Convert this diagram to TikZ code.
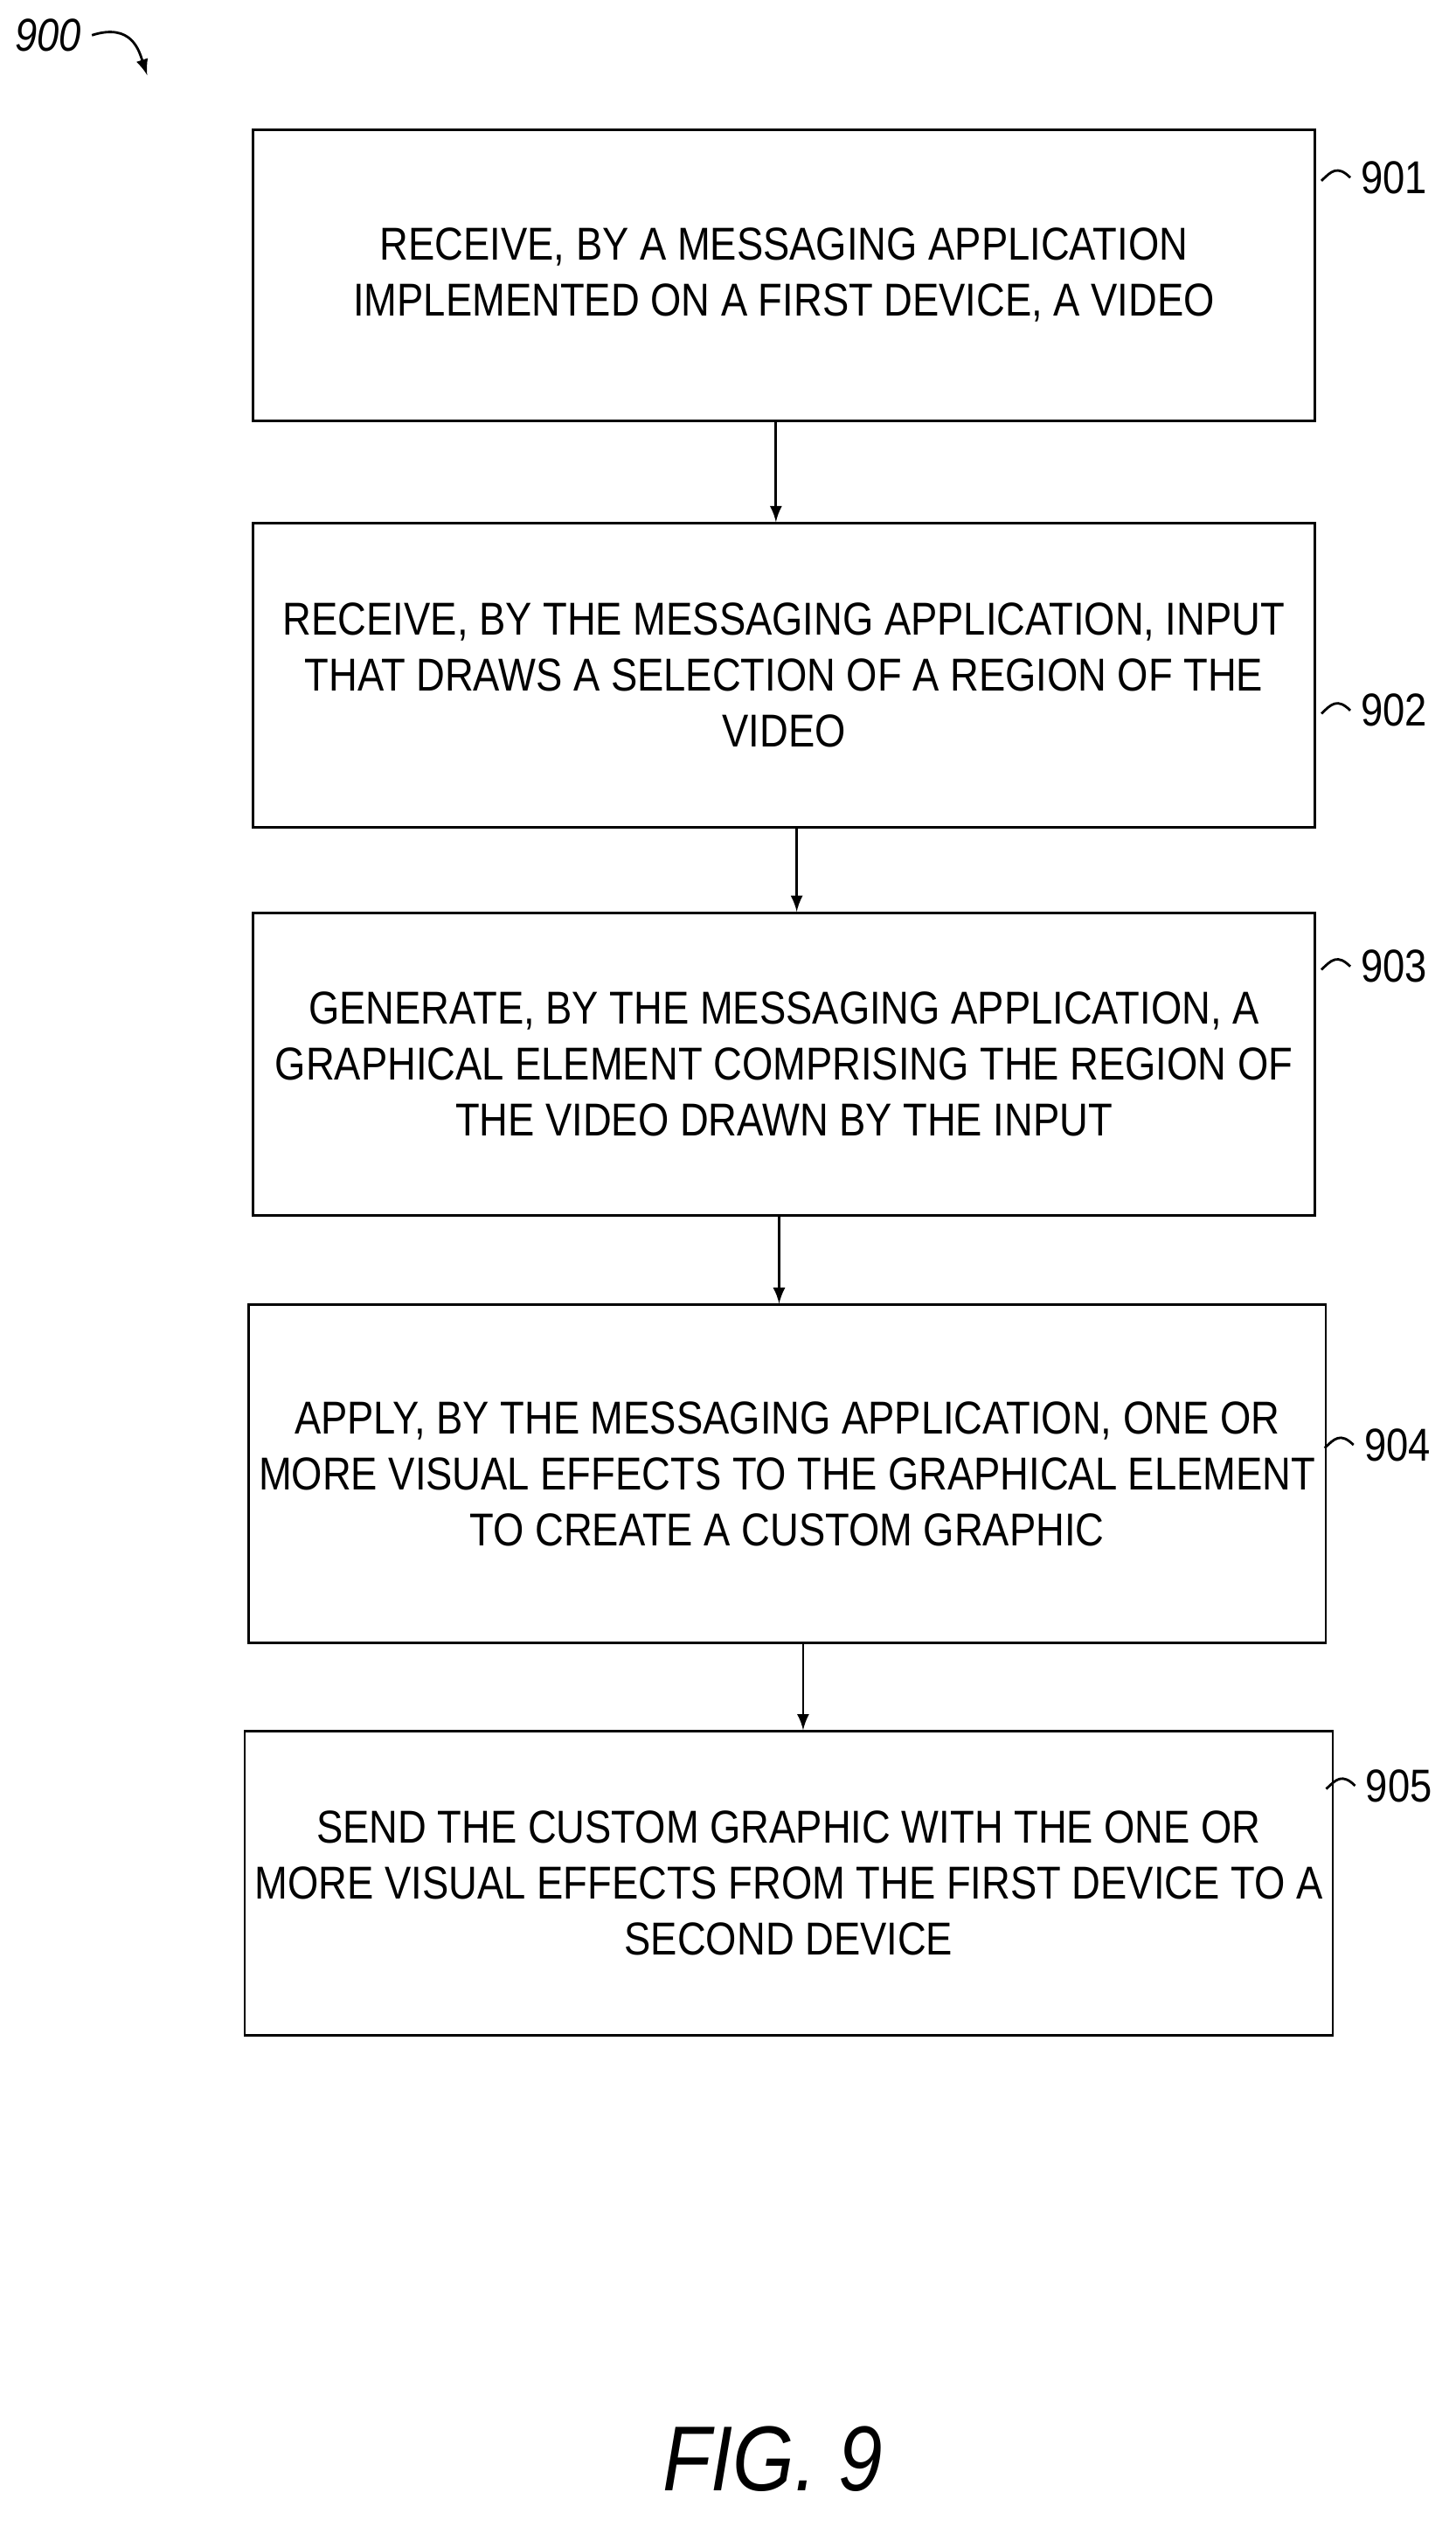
\documentclass[tikz,border=0pt]{standalone}
\usepackage{fontspec}
\setmainfont{Liberation Sans}[FakeStretch=0.86]
\usetikzlibrary{positioning,calc}

\tikzset{
  stepbox/.style={draw,thick,rectangle,align=center,font=\fontsize{15}{18.2}\selectfont},
  flow/.style={->,thick,>=latex},
  tag/.style={font=\fontsize{15}{18}\selectfont,anchor=west}
}

\begin{document}
\begin{tikzpicture}[x=0.0183cm,y=-0.0183cm]
\useasboundingbox (0,0) rectangle (910,1588);
% boxes
\node[stepbox,minimum width=664*0.0183cm,minimum height=182*0.0183cm] (b901) at (490,172) {RECEIVE, BY A MESSAGING APPLICATION\\IMPLEMENTED ON A FIRST DEVICE, A VIDEO};
\node[stepbox,minimum width=664*0.0183cm,minimum height=190*0.0183cm] (b902) at (490,422) {RECEIVE, BY THE MESSAGING APPLICATION, INPUT\\THAT DRAWS A SELECTION OF A REGION OF THE\\VIDEO};
\node[stepbox,minimum width=664*0.0183cm,minimum height=189*0.0183cm] (b903) at (490,665) {GENERATE, BY THE MESSAGING APPLICATION, A\\GRAPHICAL ELEMENT COMPRISING THE REGION OF\\THE VIDEO DRAWN BY THE INPUT};
\node[stepbox,minimum width=663*0.0183cm,minimum height=211*0.0183cm] (b904) at (492,921) {APPLY, BY THE MESSAGING APPLICATION, ONE OR\\MORE VISUAL EFFECTS TO THE GRAPHICAL ELEMENT\\TO CREATE A CUSTOM GRAPHIC};
\node[stepbox,minimum width=664*0.0183cm,minimum height=190*0.0183cm] (b905) at (493,1177) {SEND THE CUSTOM GRAPHIC WITH THE ONE OR\\MORE VISUAL EFFECTS FROM THE FIRST DEVICE TO A\\SECOND DEVICE};
% arrows
\draw[flow] ([xshift=-5*0.0183cm]b901.south) -- ([xshift=-5*0.0183cm]b902.north);
\draw[flow] ([xshift=8*0.0183cm]b902.south) -- ([xshift=8*0.0183cm]b903.north);
\draw[flow] ([xshift=-3*0.0183cm]b903.south) -- ([xshift=-5*0.0183cm]b904.north);
\draw[flow] ([xshift=10*0.0183cm]b904.south) -- ([xshift=9*0.0183cm]b905.north);
% reference numerals
\foreach \n/\x/\y in {901/822/111, 902/822/444, 903/822/604, 904/824/903, 905/825/1116}{
  \node[tag] (l\n) at (\x+22,\y) {\n};
  \draw[thick] (l\n.west) .. controls ++(-8,-8) and ++(6,-6) .. ++(-18,2);
}
\node[font=\fontsize{15}{18}\selectfont\itshape] (l900) at (30,22) {900};
\coordinate (e900) at (92,47);
\draw[thick,->,>=latex] (l900.east) .. controls ++(25,-8) and ++(-5,-15) .. (e900);
\node[font=\fontsize{30}{36}\selectfont\itshape] (fig) at (483,1537) {FIG. 9};
\end{tikzpicture}
\end{document}
